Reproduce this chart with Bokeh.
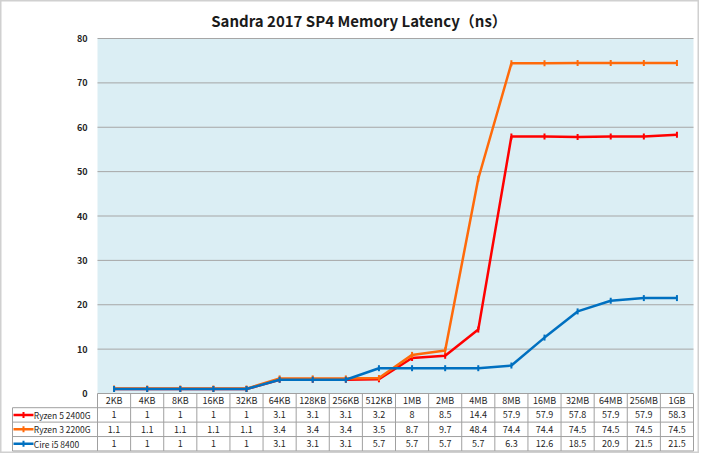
import numpy as np
from bokeh.plotting import figure
from bokeh.models import Range1d
from bokeh.core.properties import value
from bokeh.embed import file_html
from bokeh.resources import INLINE

# ---------------- data ----------------
title_text = "Sandra 2017 SP4 Memory Latency（ns）"
categories = ["2KB", "4KB", "8KB", "16KB", "32KB", "64KB", "128KB", "256KB", "512KB",
              "1MB", "2MB", "4MB", "8MB", "16MB", "32MB", "64MB", "256MB", "1GB"]
series_names = ["Ryzen 5 2400G", "Ryzen 3 2200G", "Cire i5 8400"]
ryzen5_2400g = [1, 1, 1, 1, 1, 3.1, 3.1, 3.1, 3.2, 8, 8.5, 14.4, 57.9, 57.9, 57.8, 57.9, 57.9, 58.3]
ryzen3_2200g = [1.1, 1.1, 1.1, 1.1, 1.1, 3.4, 3.4, 3.4, 3.5, 8.7, 9.7, 48.4, 74.4, 74.4, 74.5, 74.5, 74.5, 74.5]
core_i5_8400 = [1, 1, 1, 1, 1, 3.1, 3.1, 3.1, 5.7, 5.7, 5.7, 5.7, 6.3, 12.6, 18.5, 20.9, 21.5, 21.5]
y_ticks = [0, 10, 20, 30, 40, 50, 60, 70, 80]

series_values = [ryzen5_2400g, ryzen3_2200g, core_i5_8400]
series_colors = ["#FF0000", "#FF6A0A", "#0070C0"]

# ---------------- layout constants ----------------
W, H = 699, 453
n = len(categories)
kx = 596 / n
ky = 355 / 80
x0, x1 = -97 / kx, n + 6 / kx
y1 = 80 + 38 / ky
y0 = -(H - 393) / ky
header_h = 3.2
row_h = 3.25
leg_left = (12 - 97) / kx
grid_col = "#A6A6A6"
table_col = "#A0A0A0"
text_col = "#262626"
font = value("Noto Sans CJK SC")

p = figure(width=W, height=H, output_backend="svg", toolbar_location=None,
           x_range=Range1d(x0, x1), y_range=Range1d(y0, y1),
           x_axis_type=None, y_axis_type=None,
           min_border=0, min_border_left=0, min_border_right=0,
           min_border_top=0, min_border_bottom=0)
p.background_fill_color = "white"
p.border_fill_color = "white"
p.outline_line_color = "#D0D0D0"
p.outline_line_width = 2
p.grid.visible = False

# plot area background
p.quad(left=[0], right=[n], bottom=[0], top=[80], fill_color="#DBEEF4", line_color=None)

# horizontal grid lines
gy = [t for t in y_ticks if t > 0]
p.segment(x0=[0] * len(gy), x1=[n] * len(gy), y0=gy, y1=gy, line_color=grid_col, line_width=1)

# y tick labels
p.text(x=[-0.3] * len(y_ticks), y=y_ticks, text=[str(t) for t in y_ticks],
       text_align="right", text_baseline="middle", text_font=font,
       text_font_size="9px", text_font_style="bold", text_color=text_col)

# ---------------- data table ----------------
row_tops = [-header_h - i * row_h for i in range(len(series_names))]
bottom = row_tops[-1] - row_h
# horizontal table lines
p.segment(x0=[0], x1=[n], y0=[0], y1=[0], line_color=table_col, line_width=1)
hl = row_tops + [bottom]
p.segment(x0=[leg_left] * len(hl), x1=[n] * len(hl), y0=hl, y1=hl, line_color=table_col, line_width=1)
# vertical table lines
vx = list(range(n + 1))
p.segment(x0=vx, x1=vx, y0=[0] * len(vx), y1=[bottom] * len(vx), line_color=table_col, line_width=1)
p.segment(x0=[leg_left], x1=[leg_left], y0=[row_tops[0]], y1=[bottom], line_color=table_col, line_width=1)

xc = np.arange(n) + 0.5
# header labels
p.text(x=xc, y=[-header_h / 2] * n, text=categories, text_align="center", text_baseline="middle",
       text_font=font, text_font_size="9px", text_color=text_col)

for i, (name, vals, col) in enumerate(zip(series_names, series_values, series_colors)):
    yc = row_tops[i] - row_h / 2
    p.text(x=xc, y=[yc] * n, text=[f"{v:g}" for v in vals], text_align="center",
           text_baseline="middle", text_font=font, text_font_size="9px", text_color=text_col)
    # legend key
    lx0 = (13 - 97) / kx
    lx1 = (33 - 97) / kx
    p.line(x=[lx0, lx1], y=[yc, yc], line_color=col, line_width=2.5)
    p.scatter(x=[(lx0 + lx1) / 2], y=[yc], marker="dash", angle=np.pi / 2, size=6,
              line_color=col, line_width=2)
    p.text(x=[lx1 + 0.01], y=[yc], text=[name], text_align="left", text_baseline="middle",
           text_font=font, text_font_size="8.5px", text_color=text_col)

# ---------------- series lines ----------------
for vals, col in zip(series_values, series_colors):
    p.line(x=xc, y=vals, line_color=col, line_width=2.5)
    p.scatter(x=xc, y=vals, marker="dash", angle=np.pi / 2, size=6, line_color=col, line_width=2)

# title
p.text(x=[(x0 + x1) / 2 + 9 / kx], y=[y1 - 20 / ky], text=[title_text], text_align="center",
       text_baseline="middle", text_font=font, text_font_size="15px", text_font_style="bold",
       text_color="#1A1A1A")

open("out.html", "w").write(file_html(p, INLINE))
